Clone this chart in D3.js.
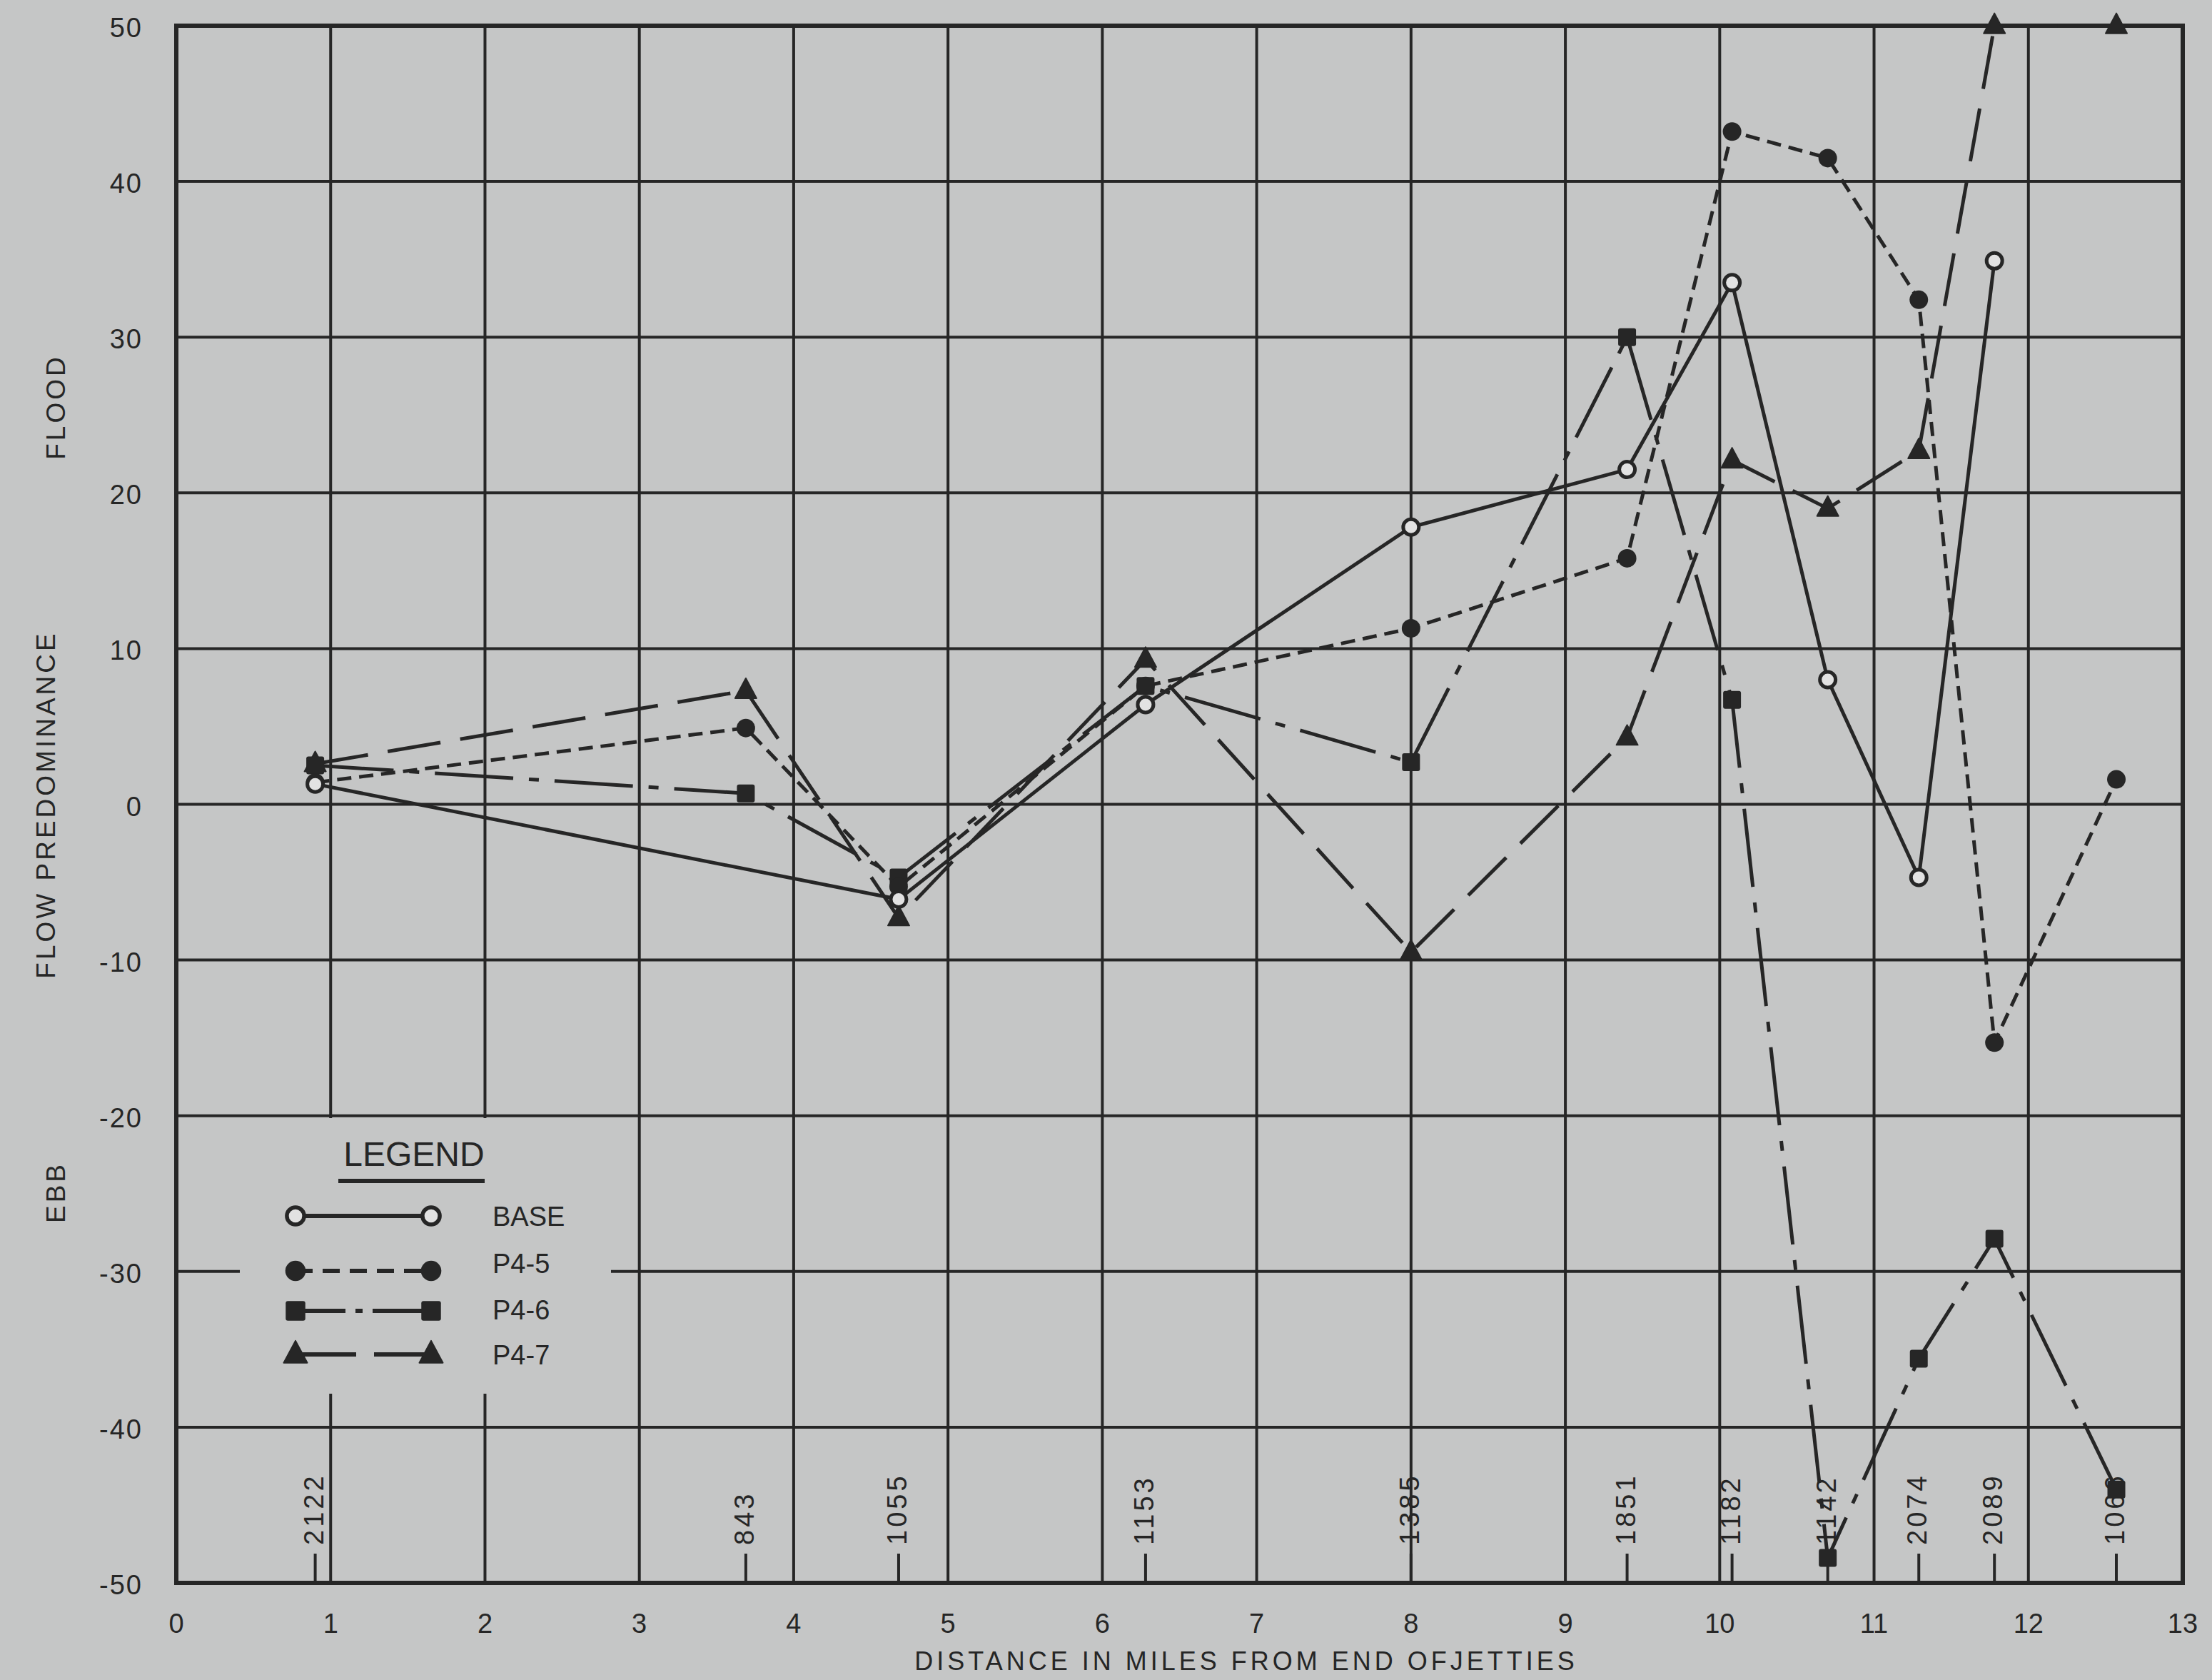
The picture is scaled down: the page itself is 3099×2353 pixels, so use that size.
<!DOCTYPE html>
<html>
<head>
<meta charset="utf-8">
<script src="https://cdn.jsdelivr.net/npm/d3@7"></script>
<style>
  html, body { margin: 0; padding: 0; background: #c5c6c6; }
  svg { display: block; }
  text { font-family: "Liberation Sans", Arial, sans-serif; fill: #262626; }
</style>
</head>
<body>
<svg id="chart" width="3099" height="2353"></svg>
<script>
// ---------- DATA ----------
const stations = ["2122", "843", "1055", "1153", "1385", "1851", "1182", "1142", "2074", "2089", "1066"];
const stationMiles = [0.9, 3.69, 4.68, 6.28, 8.0, 9.4, 10.08, 10.7, 11.29, 11.78, 12.57];
const baseValues = [1.3, null, -6.1, 6.4, 17.8, 21.5, 33.5, 8.0, -4.7, 34.9, null];
const p45Values = [1.4, 4.9, -5.3, 7.6, 11.3, 15.8, 43.2, 41.5, 32.4, -15.3, 1.6];
const p46Values = [2.5, 0.7, -4.7, 7.6, 2.7, 30.0, 6.7, -48.4, -35.6, -27.9, -44.0];
const p47Values = [2.6, 7.3, -7.3, 9.3, -9.5, 4.3, 22.1, 19.0, 22.7, 50, 50];
const seriesNames = ["BASE", "P4-5", "P4-6", "P4-7"];
const xTicks = [0, 1, 2, 3, 4, 5, 6, 7, 8, 9, 10, 11, 12, 13];
const yTicks = [50, 40, 30, 20, 10, 0, -10, -20, -30, -40, -50];
const xTitle = "DISTANCE IN MILES FROM END OFJETTIES";
const yTitle = "FLOW PREDOMINANCE";
const floodLabel = "FLOOD";
const ebbLabel = "EBB";

// ---------- STYLE ----------
const INK = "#262626";
const BG = "#c5c6c6";
const styles = {
  "BASE": { dash: null, marker: "open" },
  "P4-5": { dash: "20,11", marker: "circle" },
  "P4-6": { dash: "110,22,14,22", marker: "square" },
  "P4-7": { dash: "75,28", marker: "triangle" }
};
const legendDash = {
  "BASE": null,
  "P4-5": "24,14",
  "P4-6": "70,14,10,14",
  "P4-7": "85,25"
};

const svg = d3.select("#chart");
const x = d3.scaleLinear().domain([0, 13]).range([247, 3058]);
const y = d3.scaleLinear().domain([-50, 50]).range([2217, 36]);

// grid
const grid = svg.append("g").attr("stroke", INK).attr("stroke-width", 4);
grid.selectAll("line.v").data(xTicks.filter(d => d > 0 && d < 13)).join("line")
  .attr("x1", d => x(d)).attr("x2", d => x(d)).attr("y1", y(50)).attr("y2", y(-50));
grid.selectAll("line.h").data(yTicks.filter(d => d > -50 && d < 50)).join("line")
  .attr("x1", x(0)).attr("x2", x(13)).attr("y1", d => y(d)).attr("y2", d => y(d));

// y tick labels
svg.append("g").selectAll("text").data(yTicks).join("text")
  .attr("x", 200).attr("y", d => y(d) + 3)
  .attr("text-anchor", "end").attr("dominant-baseline", "central")
  .attr("font-size", 38).attr("letter-spacing", 2).text(d => d);

// x tick labels
svg.append("g").selectAll("text").data(xTicks).join("text")
  .attr("x", d => x(d)).attr("y", 2274)
  .attr("text-anchor", "middle").attr("dominant-baseline", "central")
  .attr("font-size", 38).text(d => d);

// station ticks and labels
const st = stations.map((s, i) => ({ name: s, mi: stationMiles[i] }));
svg.append("g").selectAll("line").data(st).join("line")
  .attr("x1", d => x(d.mi)).attr("x2", d => x(d.mi))
  .attr("y1", y(-50)).attr("y2", 2176)
  .attr("stroke", INK).attr("stroke-width", 4);
svg.append("g").selectAll("text").data(st).join("text")
  .attr("transform", d => `translate(${x(d.mi) - 2},2164) rotate(-90)`)
  .attr("text-anchor", "start").attr("dominant-baseline", "central")
  .attr("font-size", 38).attr("letter-spacing", 4).text(d => d.name);

// titles
svg.append("text").attr("x", 1746).attr("y", 2326)
  .attr("text-anchor", "middle").attr("dominant-baseline", "central")
  .attr("font-size", 36).attr("letter-spacing", 5).text(xTitle);
svg.append("text").attr("transform", "translate(64,1127) rotate(-90)")
  .attr("text-anchor", "middle").attr("dominant-baseline", "central")
  .attr("font-size", 37).attr("letter-spacing", 4).text(yTitle);
svg.append("text").attr("transform", "translate(78,570) rotate(-90)")
  .attr("text-anchor", "middle").attr("dominant-baseline", "central")
  .attr("font-size", 37).attr("letter-spacing", 4).text(floodLabel);
svg.append("text").attr("transform", "translate(78,1670) rotate(-90)")
  .attr("text-anchor", "middle").attr("dominant-baseline", "central")
  .attr("font-size", 37).attr("letter-spacing", 4).text(ebbLabel);

// legend box (covers gridlines)
svg.append("rect").attr("x", 336).attr("y", 1566).attr("width", 520).attr("height", 386)
  .attr("fill", BG);

// border
svg.append("rect").attr("x", x(0)).attr("y", y(50))
  .attr("width", x(13) - x(0)).attr("height", y(-50) - y(50))
  .attr("fill", "none").attr("stroke", INK).attr("stroke-width", 6);

// series
const allValues = { "BASE": baseValues, "P4-5": p45Values, "P4-6": p46Values, "P4-7": p47Values };
const line = d3.line().x(d => x(d.mi)).y(d => y(d.v));

function drawMarker(g, type, cx, cy, scale) {
  const s = scale || 1;
  if (type === "open") {
    g.append("circle").attr("cx", cx).attr("cy", cy).attr("r", 11 * s)
      .attr("fill", "#e2e2e2").attr("stroke", INK).attr("stroke-width", 5 * s);
  } else if (type === "circle") {
    g.append("circle").attr("cx", cx).attr("cy", cy).attr("r", 13 * s).attr("fill", INK);
  } else if (type === "square") {
    g.append("rect").attr("x", cx - 12.5 * s).attr("y", cy - 12.5 * s)
      .attr("width", 25 * s).attr("height", 25 * s).attr("rx", 3).attr("fill", INK);
  } else if (type === "triangle") {
    const h = 28 * s, w = 30 * s;
    g.append("path").attr("d", `M${cx},${cy - h * 0.62}L${cx + w / 2},${cy + h * 0.38}L${cx - w / 2},${cy + h * 0.38}Z`)
      .attr("fill", INK).attr("stroke", INK).attr("stroke-width", 2).attr("stroke-linejoin", "round");
  }
}

const plotG = svg.append("g");
seriesNames.forEach(name => {
  const pts = allValues[name].map((v, i) => ({ mi: stationMiles[i], v })).filter(d => d.v !== null);
  plotG.append("path").datum(pts).attr("d", line)
    .attr("fill", "none").attr("stroke", INK).attr("stroke-width", 5)
    .attr("stroke-linejoin", "round")
    .attr("stroke-dasharray", styles[name].dash);
});
const markG = svg.append("g");
["P4-7", "P4-6", "P4-5", "BASE"].forEach(name => {
  allValues[name].forEach((v, i) => {
    if (v === null) return;
    drawMarker(markG, styles[name].marker, x(stationMiles[i]), y(v));
  });
});

// legend
const lg = svg.append("g");
lg.append("text").attr("x", 580).attr("y", 1616)
  .attr("text-anchor", "middle").attr("dominant-baseline", "central")
  .attr("font-size", 48).text("LEGEND");
lg.append("line").attr("x1", 474).attr("x2", 679).attr("y1", 1654).attr("y2", 1654)
  .attr("stroke", INK).attr("stroke-width", 6);
const rowY = [1703, 1780, 1836, 1897];
const textY = [1704, 1770, 1835, 1898];
seriesNames.forEach((name, i) => {
  lg.append("line").attr("x1", 414).attr("x2", 604).attr("y1", rowY[i]).attr("y2", rowY[i])
    .attr("stroke", INK).attr("stroke-width", 6).attr("stroke-dasharray", legendDash[name]);
  drawMarker(lg, styles[name].marker, 414, rowY[i], 1.1);
  drawMarker(lg, styles[name].marker, 604, rowY[i], 1.1);
  lg.append("text").attr("x", 690).attr("y", textY[i])
    .attr("dominant-baseline", "central").attr("font-size", 38).text(name);
});
</script>
</body>
</html>
